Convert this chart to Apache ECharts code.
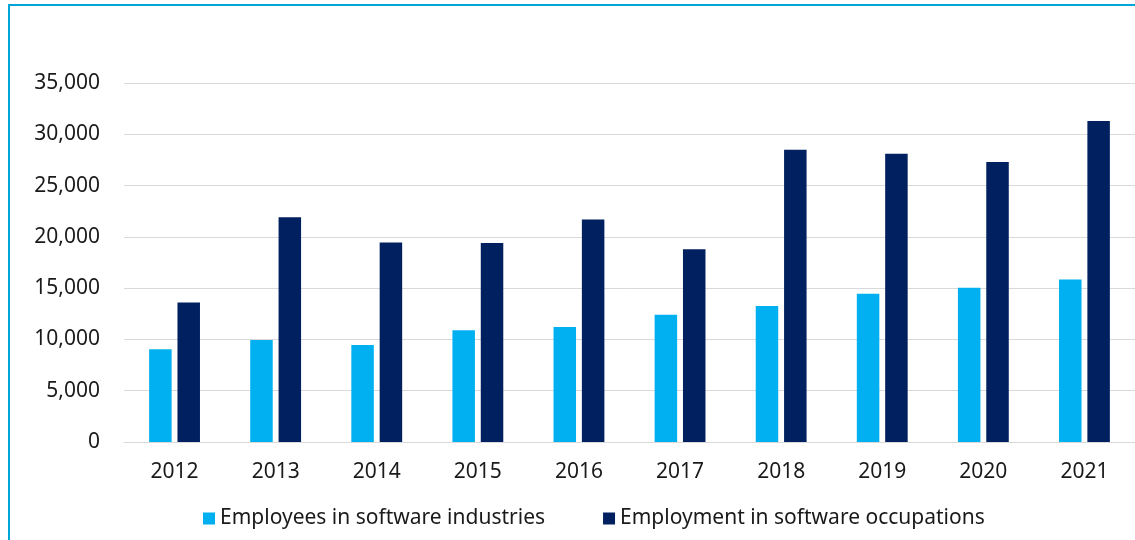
<!DOCTYPE html>
<html>
<head>
<meta charset="utf-8">
<script src="https://cdn.jsdelivr.net/npm/echarts@6/dist/echarts.min.js"></script>
<style>
  html, body { margin: 0; padding: 0; background: #ffffff; }
  #chart { width: 1135px; height: 540px; }
</style>
</head>
<body>
<div id="chart"></div>
<script>
// Years on the category axis
const years = ['2012', '2013', '2014', '2015', '2016', '2017', '2018', '2019', '2020', '2021'];

// Headcounts per year
const softwareIndustries = [9050, 9950, 9450, 10900, 11200, 12400, 13250, 14450, 15050, 15850];
const softwareOccupations = [13600, 21900, 19450, 19400, 21700, 18800, 28500, 28100, 27300, 31300];

// Value axis ticks
const yTicks = [0, 5000, 10000, 15000, 20000, 25000, 30000, 35000];

const FONT = '"Noto Sans", "Open Sans", sans-serif';
const TEXT = '#1a1a1a';

const chart = echarts.init(document.getElementById('chart'), null, { renderer: 'canvas' });

chart.setOption({
  animation: false,
  backgroundColor: '#ffffff',
  textStyle: { fontFamily: FONT, color: TEXT },
  grid: { left: 124, top: 83, width: 1016, height: 359, containLabel: false },
  legend: {
    left: 203,
    top: 508,
    padding: 0,
    icon: 'rect',
    itemWidth: 12,
    itemHeight: 12,
    itemGap: 58,
    textStyle: { fontFamily: FONT, fontSize: 21, color: TEXT },
    data: ['Employees in software industries', 'Employment in software occupations']
  },
  xAxis: {
    type: 'category',
    data: years,
    axisLine: { show: true, lineStyle: { color: '#d9d9d9', width: 1 } },
    axisTick: { show: false },
    axisLabel: { fontFamily: FONT, fontSize: 21, color: TEXT, margin: 20 }
  },
  yAxis: {
    type: 'value',
    min: yTicks[0],
    max: yTicks[yTicks.length - 1],
    interval: yTicks[1] - yTicks[0],
    axisLine: { show: false },
    axisTick: { show: false },
    splitLine: { lineStyle: { color: '#d9d9d9', width: 1 } },
    axisLabel: {
      fontFamily: FONT, fontSize: 21, color: TEXT, margin: 24,
      formatter: v => v.toLocaleString('en-US')
    }
  },
  series: [
    {
      name: 'Employees in software industries',
      type: 'bar',
      data: softwareIndustries,
      barWidth: 22.5,
      barGap: '26%',
      itemStyle: { color: '#00B0F0' }
    },
    {
      name: 'Employment in software occupations',
      type: 'bar',
      data: softwareOccupations,
      barWidth: 22.5,
      itemStyle: { color: '#002060' }
    }
  ],
  graphic: [
    {
      type: 'polyline',
      silent: true,
      shape: { points: [[9, 540], [9, 5], [1135, 5]] },
      style: { stroke: '#00A5D8', lineWidth: 2, fill: null }
    }
  ]
});
</script>
</body>
</html>
